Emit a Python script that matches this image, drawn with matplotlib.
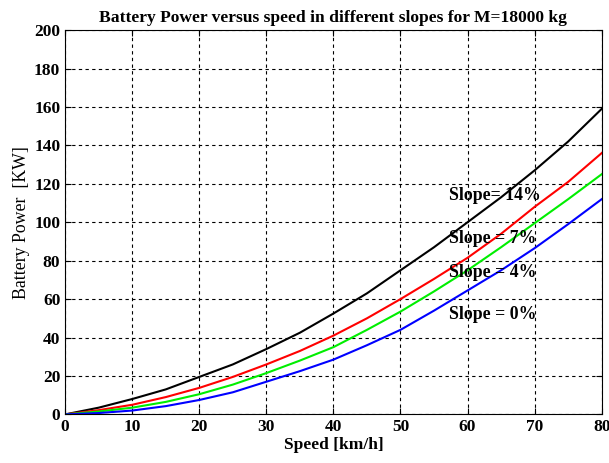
import numpy as np
import matplotlib.pyplot as plt

plt.rcParams['font.family'] = ['Liberation Serif', 'DejaVu Serif']

speed = [0, 5, 10, 15, 20, 25, 30, 35, 40, 45, 50, 55, 60, 65, 70, 75, 80]
p_slope14 = [0, 3.5, 8, 13, 19.5, 26, 34, 42.5, 52.5, 63, 75, 87, 100, 113, 127, 142, 159]
p_slope7 = [0, 2.2, 5, 9, 13.8, 19.5, 26, 33, 41, 50, 60, 70.5, 81.5, 94, 108, 121, 136]
p_slope4 = [0, 1.5, 3.5, 6.5, 10.5, 15.5, 21.5, 28, 35, 44, 53.5, 64, 75, 87, 99.5, 112, 125]
p_slope0 = [0, 0.7, 2, 4.3, 7.5, 11.5, 17, 22.5, 28.5, 36, 44, 54, 64.5, 75, 86.5, 99, 112]

labels = ['Slope= 14%', 'Slope = 7%', 'Slope = 4%', 'Slope = 0%']
label_y = [114, 91.5, 74, 52]

fig = plt.figure(figsize=(6.09, 4.63), dpi=100)
ax = fig.add_axes([0.107, 0.105, 0.881, 0.83])

ax.plot(speed, p_slope14, color='black', lw=1.5)
ax.plot(speed, p_slope7, color='red', lw=1.5)
ax.plot(speed, p_slope4, color='#00ee00', lw=1.5)
ax.plot(speed, p_slope0, color='blue', lw=1.5)

for txt, yy in zip(labels, label_y):
    ax.text(57.2, yy, txt, fontsize=12.8, fontweight='bold', va='center', ha='left')

ax.set_xlim(0, 80)
ax.set_ylim(0, 200)
ax.set_xticks(np.arange(0, 81, 10))
ax.set_yticks(np.arange(0, 201, 20))
ax.grid(True, color='black', linestyle=(0, (3, 3)), linewidth=0.8)
ax.tick_params(direction='in', top=True, right=True, labelsize=12.5, length=4)
for lbl in ax.get_xticklabels() + ax.get_yticklabels():
    lbl.set_fontweight('bold')

ax.set_xlabel('Speed [km/h]', fontsize=12.5, fontweight='bold', labelpad=1)
ax.set_ylabel('Battery Power  [KW]', fontsize=12.8, labelpad=3)
ax.set_title('Battery Power versus speed in different slopes for M=18000 kg',
             fontsize=12.6, fontweight='bold', pad=6)

fig.savefig('out.png', dpi=100)
